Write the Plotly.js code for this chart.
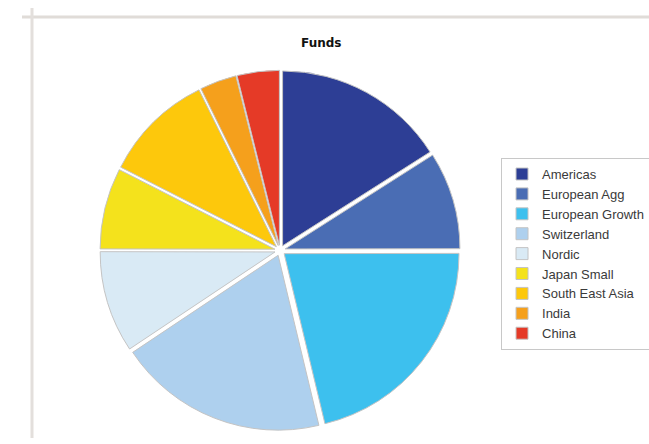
<!DOCTYPE html>
<html>
<head>
<meta charset="utf-8">
<script src="https://cdn.plot.ly/plotly-3.0.1.min.js"></script>
<style>html,body{margin:0;padding:0;background:#fff;}#chart{width:649px;height:444px;}</style>
</head>
<body>
<div id="chart"></div>
<script>
const categories = ["Americas", "European Agg", "European Growth", "Switzerland", "Nordic", "Japan Small", "South East Asia", "India", "China"];
const values = [16, 9, 21.3, 19.4, 9.4, 7.5, 10.2, 3.4, 3.9];
const colors = ["#2d3e95", "#4a6db4", "#3dc0ee", "#aed0ee", "#d9eaf5", "#f4e21c", "#fdc80c", "#f5a01c", "#e53a27"];

const trace = {
  type: "pie",
  labels: categories,
  values: values,
  sort: false,
  direction: "clockwise",
  rotation: 0,
  textinfo: "none",
  hoverinfo: "label+value",
  pull: categories.map(() => 0.03),
  marker: { colors: colors, line: { color: "#c4c4c4", width: 1 } },
  domain: { x: [0.154, 0.709], y: [0.03, 0.842] }
};

const layout = {
  width: 649,
  height: 444,
  margin: { l: 0, r: 0, t: 0, b: 0, autoexpand: false },
  paper_bgcolor: "#ffffff",
  title: { text: "<b>Funds</b>", x: 0.495, xanchor: "center", y: 0.903, yanchor: "middle", font: { family: "DejaVu Sans", size: 12, color: "#111" } },
  showlegend: true,
  legend: {
    x: 0.772, xanchor: "left", y: 0.644, yanchor: "top",
    bgcolor: "#ffffff", bordercolor: "#c8c8c8", borderwidth: 1,
    font: { family: "Liberation Sans", size: 13, color: "#3a3a3a" },
    traceorder: "normal"
  },
  shapes: [
    { type: "line", xref: "paper", yref: "paper", x0: 22/649, x1: 1, y0: 1 - 17/444, y1: 1 - 17/444, line: { color: "#e0dcd8", width: 3 } },
    { type: "line", xref: "paper", yref: "paper", x0: 32/649, x1: 32/649, y0: 1 - 8/444, y1: 1 - 438/444, line: { color: "#e3dfdc", width: 3 } }
  ]
};

Plotly.newPlot("chart", [trace], layout, { displayModeBar: false, staticPlot: true });
</script>
</body>
</html>
